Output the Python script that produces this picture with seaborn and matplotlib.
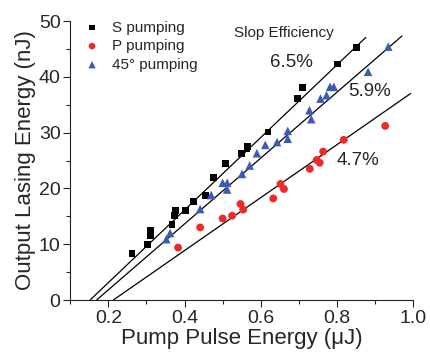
import numpy as np
import pandas as pd
import matplotlib
matplotlib.use("Agg")
import matplotlib.pyplot as plt
from matplotlib.ticker import MultipleLocator
import seaborn as sns

# pump energy (uJ) / output energy (nJ)
s_pump = [0.262, 0.303, 0.310, 0.311, 0.367, 0.374, 0.376, 0.402, 0.424, 0.455,
          0.477, 0.507, 0.550, 0.564, 0.566, 0.619, 0.696, 0.710, 0.801, 0.852]
s_out = [8.4, 10.0, 11.5, 12.4, 13.6, 15.1, 16.0, 16.0, 17.6, 18.7,
         22.0, 24.5, 26.2, 27.1, 27.5, 30.1, 36.1, 38.1, 42.3, 45.2]

p_pump = [0.383, 0.441, 0.500, 0.525, 0.547, 0.554, 0.633, 0.652, 0.661,
          0.729, 0.747, 0.755, 0.764, 0.818, 0.927]
p_out = [9.4, 13.0, 14.6, 15.1, 17.2, 16.2, 18.2, 20.8, 19.9,
         23.5, 25.1, 24.6, 26.6, 28.7, 31.2]

d_pump = [0.352, 0.362, 0.441, 0.470, 0.500, 0.512, 0.512, 0.551, 0.571, 0.590,
          0.612, 0.643, 0.671, 0.671, 0.728, 0.733, 0.757, 0.773, 0.782, 0.792,
          0.882, 0.935]
d_out = [10.9, 12.0, 16.3, 18.8, 21.0, 21.0, 19.8, 22.6, 24.1, 26.3,
         27.8, 28.3, 30.3, 28.9, 34.0, 32.4, 36.1, 36.7, 38.2, 38.2,
         40.9, 45.4]

# linear fits: slope (nJ/uJ), threshold (uJ), end of drawn line (uJ)
fit_slope = [65.0, 59.0, 47.4]
fit_thresh = [0.152, 0.169, 0.213]
fit_end = [0.876, 0.971, 0.994]
fit_label = ["6.5%", "5.9%", "4.7%"]
label_pos = [(0.680, 42.5), (0.886, 37.3), (0.856, 25.0)]

sns.set_style("ticks")
plt.rcParams["font.family"] = ["Liberation Sans", "DejaVu Sans"]

fig, ax = plt.subplots(figsize=(4.3, 3.52), dpi=100)
plt.subplots_adjust(left=0.1635, right=0.9605, bottom=0.1477, top=0.9403)

for k in range(3):
    xs = np.array([fit_thresh[k], fit_end[k]])
    ys = fit_slope[k] * (xs - fit_thresh[k])
    sns.lineplot(x=xs, y=ys, ax=ax, color="black", lw=0.9, legend=False, zorder=1)

sns.scatterplot(x=s_pump, y=s_out, ax=ax, marker="s", color="black", s=24,
                edgecolor="none", label="S pumping", zorder=3)
sns.scatterplot(x=p_pump, y=p_out, ax=ax, marker="o", color="#ee2b2b", s=32,
                edgecolor="none", label="P pumping", zorder=3)
sns.scatterplot(x=d_pump, y=d_out, ax=ax, marker="^", color="#3a5cb4", s=38,
                edgecolor="none", label="45\u00b0 pumping", zorder=3)

for txt, (tx, ty) in zip(fit_label, label_pos):
    ax.text(tx, ty, txt, fontsize=13.5, ha="center", va="center")
ax.text(0.662, 47.8, "Slop Efficiency", fontsize=11, ha="center", va="center")

ax.set_xlim(0.1, 1.0)
ax.set_ylim(0, 50)
ax.xaxis.set_major_locator(MultipleLocator(0.2))
ax.xaxis.set_minor_locator(MultipleLocator(0.1))
ax.yaxis.set_major_locator(MultipleLocator(10))
ax.yaxis.set_minor_locator(MultipleLocator(5))
ax.set_xticks([0.2, 0.4, 0.6, 0.8, 1.0])
ax.set_xticklabels(["0.2", "0.4", "0.6", "0.8", "1.0"])
ax.tick_params(which="major", direction="out", length=5, width=0.8, labelsize=14, pad=2)
ax.tick_params(which="minor", direction="out", length=3, width=0.8)
ax.set_xlabel("Pump Pulse Energy (\u03bcJ)", fontsize=16, labelpad=1)
ax.set_ylabel("Output Lasing Energy (nJ)", fontsize=16, labelpad=2)
sns.despine(ax=ax)
for sp in ["left", "bottom"]:
    ax.spines[sp].set_linewidth(0.8)
    ax.spines[sp].set_color("#222222")

ax.legend(loc="upper left", bbox_to_anchor=(0.01, 1.04), frameon=False, fontsize=11,
          handlelength=1.0, handletextpad=0.8, labelspacing=0.3, borderaxespad=0.3,
          markerscale=0.85)

fig.savefig("out.png", dpi=100)
